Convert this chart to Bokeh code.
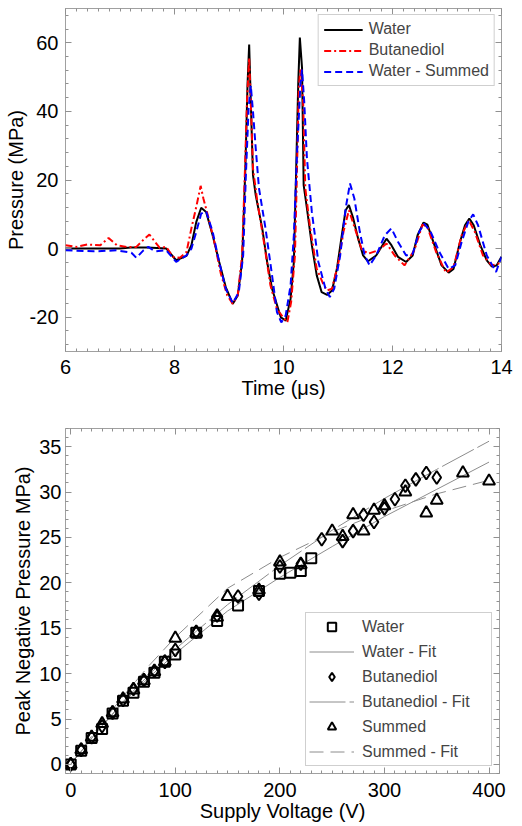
from bokeh.plotting import figure
from bokeh.models import (LinearAxis, SingleIntervalTicker, Legend, LegendItem,
                          CustomJSTickFormatter, Range1d)
from bokeh.layouts import column
from bokeh.embed import file_html
from bokeh.resources import INLINE

# ---------------- Top panel data (time in us, pressure in MPa) ----------------
water_t = [6.0, 6.5, 7.0, 7.2, 7.5, 7.85, 8.03, 8.22, 8.31, 8.40, 8.49, 8.58, 8.70, 8.82, 8.94,
           9.07, 9.16, 9.24, 9.30, 9.34, 9.37, 9.40, 9.44, 9.49, 9.61, 9.70, 9.79, 9.95, 10.04,
           10.13, 10.19, 10.23, 10.27, 10.30, 10.34, 10.37, 10.43, 10.52, 10.61, 10.70, 10.80,
           10.89, 10.98, 11.07, 11.14, 11.20, 11.28, 11.37, 11.46, 11.55, 11.70, 11.89, 11.98,
           12.10, 12.25, 12.37, 12.46, 12.57, 12.64, 12.77, 12.90, 13.03, 13.12, 13.24, 13.33,
           13.41, 13.49, 13.61, 13.73, 13.82, 13.91, 14.0]
water_p = [0.0, 0.0, 0.0, 0.3, 0.3, 0.0, -3.4, -2.1, 1.0, 7.8, 11.9, 10.7, 3.9, -3.9, -11.2,
           -16.1, -13.7, -3.9, 23.4, 47.8, 59.5, 42.9, 21.5, 15.6, 5.9, -3.9, -11.7, -20.0, -21.0,
           -14.6, -3.9, 21.5, 47.8, 61.5, 52.7, 18.5, 11.7, 1.0, -7.8, -12.7, -13.5,
           -12.2, -5.9, 3.9, 11.2, 12.7, 8.8, 2.9, -2.0, -3.7, -2.0, 2.9, 1.0,
           -2.4, -3.9, -2.0, 3.9, 7.6, 7.0, 1.0, -4.9, -7.0, -5.9, 2.0, 6.8,
           8.8, 6.8, 1.0, -3.4, -5.2, -4.9, -2.4]

but_t = [6.0, 6.2, 6.4, 6.64, 6.79, 6.94, 7.12, 7.30, 7.45, 7.54, 7.64, 7.73, 7.85, 7.97, 8.10,
         8.22, 8.31, 8.40, 8.48, 8.53, 8.61, 8.73, 8.85, 8.97, 9.07, 9.16, 9.24, 9.29, 9.33,
         9.37, 9.40, 9.44, 9.52, 9.64, 9.76, 9.88, 9.99, 10.07, 10.14, 10.21, 10.24, 10.28,
         10.31, 10.36, 10.40, 10.49, 10.61, 10.74, 10.80, 10.89, 11.01, 11.10, 11.20, 11.31,
         11.43, 11.55, 11.74, 11.89, 12.04, 12.22, 12.40, 12.55, 12.64, 12.80, 12.98, 13.12,
         13.27, 13.40, 13.51, 13.66, 13.82, 13.94, 14.0]
but_p = [1.0, 0.5, 1.2, 1.0, 3.1, 1.0, 0.5, 0.5, 2.9, 4.1, 2.0, 0.2, 0.5, -2.4, -2.7,
         -1.0, 5.9, 12.2, 18.3, 14.6, 9.8, 2.0, -7.3, -13.7, -16.1, -13.7, -2.0, 21.5, 42.9,
         55.6, 42.9, 23.4, 13.7, 2.0, -10.7, -17.6, -20.0, -21.5, -15.6, -2.0, 17.6, 46.8,
         52.5, 42.9, 17.6, 5.9, -5.9, -10.7, -12.2, -11.7, -3.9, 4.9, 11.2, 5.9,
         0.0, -1.5, -0.5, 1.5, -2.0, -4.9, -0.5, 7.0, 6.3, -1.0, -7.0, -5.4,
         3.9, 8.3, 4.9, -2.0, -4.9, -4.4, -3.9]

sum_t = [6.0, 6.52, 6.94, 7.21, 7.30, 7.43, 7.52, 7.64, 7.85, 8.03, 8.22, 8.31, 8.40, 8.49,
         8.58, 8.70, 8.82, 8.94, 9.07, 9.18, 9.26, 9.31, 9.36, 9.40, 9.44, 9.49, 9.55, 9.67,
         9.79, 9.88, 9.96, 10.04, 10.13, 10.19, 10.25, 10.31, 10.34, 10.38, 10.43, 10.52,
         10.64, 10.77, 10.85, 10.93, 11.04, 11.14, 11.22, 11.30, 11.40, 11.49, 11.58, 11.70,
         11.86, 11.98, 12.10, 12.25, 12.37, 12.49, 12.58, 12.70, 12.86, 13.03, 13.15, 13.27,
         13.39, 13.48, 13.57, 13.73, 13.90, 14.0]
sum_p = [-0.5, -0.8, -0.5, -1.2, -2.7, -0.5, 0.5, -0.8, -0.5, -3.9, -2.0, 0.0, 4.9, 10.2,
         10.9, 4.9, -3.9, -11.7, -15.9, -12.7, -2.0, 21.5, 41.0, 47.5, 40.0, 29.3, 17.6, 5.9,
         -7.8, -18.5, -21.5, -19.5, -10.7, 3.9, 28.3, 47.8, 52.2, 42.9, 26.3, 10.7,
         -3.9, -11.7, -14.1, -11.7, -2.0, 11.7, 19.0, 14.6, 4.9, -2.0, -4.9, -2.0,
         3.9, 5.9, 2.0, -2.0, -1.5, 4.9, 7.3, 4.9, -1.0, -5.9, -4.9, 2.0,
         7.8, 10.0, 6.8, -2.0, -6.8, -2.4]

# ---------------- Bottom panel data (supply voltage V, peak negative pressure MPa) ----------------
water_v = [0, 10, 20, 30, 40, 50, 60, 70, 80, 90, 100, 120, 140, 160, 180, 200, 210, 220, 230]
water_pnp = [0, 1.5, 2.9, 3.9, 5.6, 7.0, 7.9, 9.1, 10.1, 11.3, 12.1, 14.5, 15.8, 17.5, 19.1,
             21.0, 21.1, 21.3, 22.7]

but_v = [0, 10, 20, 30, 40, 50, 60, 70, 80, 90, 100, 120, 140, 160, 180, 200, 220, 240, 260,
         270, 280, 290, 300, 310, 320, 330, 340, 350]
but_pnp = [0, 1.6, 3.0, 4.2, 5.7, 7.1, 8.3, 9.3, 10.3, 11.3, 12.6, 14.6, 16.4, 18.5, 18.8,
           21.8, 22.1, 24.8, 24.6, 25.7, 27.5, 26.7, 28.2, 29.2, 30.7, 31.4, 32.1, 31.6]

sum_v = [0, 10, 20, 30, 40, 50, 60, 70, 80, 90, 100, 120, 140, 150, 180, 200, 220, 250, 260,
         270, 280, 290, 300, 320, 340, 350, 375, 400]
sum_pnp = [0, 1.6, 3.0, 4.5, 5.7, 7.2, 8.2, 9.2, 10.2, 11.3, 13.9, 14.5, 16.2, 18.5, 19.2,
           22.3, 22.0, 25.7, 25.1, 27.5, 25.7, 28.0, 28.5, 30.0, 27.7, 29.1, 32.1, 31.2]

fit_v = [0, 25, 50, 75, 100, 150, 200, 250, 300, 350, 400]
water_fit = [0, 3.6, 6.8, 9.6, 12.2, 16.9, 20.6, 24.0, 27.3, 30.3, 33.3]
but_fit = [0, 3.6, 6.9, 9.9, 12.7, 17.6, 21.9, 25.8, 29.3, 32.5, 35.6]
sum_fit = [0, 3.9, 7.5, 10.9, 14.0, 19.4, 22.8, 25.6, 27.9, 29.8, 31.3]

FONT = "Liberation Sans"
FRAME = "#a0a0a0"
TICK = "#909090"


def make_axis(ax, interval, minor, show_labels=True, standoff=8):
    ax.ticker = SingleIntervalTicker(interval=interval, num_minor_ticks=minor)
    ax.axis_line_color = None
    ax.major_tick_in = 6
    ax.major_tick_out = 0
    ax.minor_tick_in = 3
    ax.minor_tick_out = 0
    ax.major_tick_line_color = TICK
    ax.minor_tick_line_color = TICK
    ax.major_label_text_font = FONT
    ax.major_label_text_color = "black"
    ax.axis_label_text_font = FONT
    ax.axis_label_text_font_style = "normal"
    ax.axis_label_text_color = "black"
    if show_labels:
        ax.formatter = CustomJSTickFormatter(code="return tick.toString();")
        ax.major_label_text_font_size = "20px"
        ax.axis_label_text_font_size = "20px"
        ax.major_label_standoff = standoff
    else:
        ax.formatter = CustomJSTickFormatter(code="return '';")
        ax.major_label_text_font_size = "0px"
        ax.axis_label_text_font_size = "0px"
        ax.axis_label_standoff = 0
        ax.major_label_standoff = 0


def base_fig(width, height, xr, yr, mbl, mbr, mbt, mbb):
    p = figure(width=width, height=height, x_range=Range1d(*xr), y_range=Range1d(*yr),
               output_backend="svg", toolbar_location=None,
               min_border_left=mbl, min_border_right=mbr,
               min_border_top=mbt, min_border_bottom=mbb)
    p.xgrid.visible = False
    p.ygrid.visible = False
    p.outline_line_color = FRAME
    p.outline_line_width = 1
    p.background_fill_color = "white"
    p.border_fill_color = "white"
    return p


# ---------------- Top figure ----------------
p1 = base_fig(522, 412, (6, 14), (-30, 70), 65, 10, 8, 61)
make_axis(p1.xaxis[0], 2, 10, standoff=8)
make_axis(p1.yaxis[0], 20, 5, standoff=7)
p1.xaxis[0].axis_label = "Time (μs)"
p1.yaxis[0].axis_label = "Pressure (MPa)"
p1.yaxis[0].axis_label_standoff = 0
p1.xaxis[0].axis_label_standoff = 0
ax_top = LinearAxis()
make_axis(ax_top, 2, 10, show_labels=False)
p1.add_layout(ax_top, "above")
ax_right = LinearAxis()
make_axis(ax_right, 20, 5, show_labels=False)
p1.add_layout(ax_right, "right")

r_w = p1.line(water_t, water_p, line_color="black", line_width=2)
r_b = p1.line(but_t, but_p, line_color="red", line_width=2, line_dash="7 3 2 3")
r_s = p1.line(sum_t, sum_p, line_color="blue", line_width=2, line_dash="7 4")

leg1 = Legend(items=[LegendItem(label="Water", renderers=[r_w]),
                     LegendItem(label="Butanediol", renderers=[r_b]),
                     LegendItem(label="Water - Summed", renderers=[r_s])],
              location="top_right", margin=6, padding=5, spacing=3,
              glyph_width=39, glyph_height=17, label_height=17, label_standoff=6,
              label_text_font=FONT, label_text_font_size="16px",
              border_line_color=FRAME, border_line_width=1,
              background_fill_color="white", background_fill_alpha=1)
p1.add_layout(leg1)

# ---------------- Bottom figure ----------------
p2 = base_fig(520, 413, (-5, 410), (-1, 37), 64, 21, 16, 52)
make_axis(p2.xaxis[0], 100, 10, standoff=9)
make_axis(p2.yaxis[0], 5, 5, standoff=4)
p2.xaxis[0].axis_label = "Supply Voltage (V)"
p2.yaxis[0].axis_label = "Peak Negative Pressure MPa)"
p2.yaxis[0].axis_label_standoff = 2
p2.xaxis[0].axis_label_standoff = 0
ax_top2 = LinearAxis()
make_axis(ax_top2, 100, 10, show_labels=False)
p2.add_layout(ax_top2, "above")
ax_right2 = LinearAxis()
make_axis(ax_right2, 5, 5, show_labels=False)
p2.add_layout(ax_right2, "right")

f_w = p2.line(fit_v, water_fit, line_color="#8c8c8c", line_width=1)
f_b = p2.line(fit_v, but_fit, line_color="#8c8c8c", line_width=1, line_dash="36 4")
f_s = p2.line(fit_v, sum_fit, line_color="#8c8c8c", line_width=1, line_dash="14 7")

m_w = p2.scatter(water_v, water_pnp, marker="square", size=10, line_color="black",
                 line_width=2, fill_alpha=0)
m_b = p2.scatter(but_v, but_pnp, marker="diamond", size=13, line_color="black",
                 line_width=2, fill_alpha=0)
m_s = p2.scatter(sum_v, sum_pnp, marker="triangle", size=12, line_color="black",
                 line_width=2, fill_alpha=0)

leg2 = Legend(items=[LegendItem(label="Water", renderers=[m_w]),
                     LegendItem(label="Water - Fit", renderers=[f_w]),
                     LegendItem(label="Butanediol", renderers=[m_b]),
                     LegendItem(label="Butanediol - Fit", renderers=[f_b]),
                     LegendItem(label="Summed", renderers=[m_s]),
                     LegendItem(label="Summed - Fit", renderers=[f_s])],
              location="bottom_right", margin=7, padding=3, spacing=4,
              glyph_width=45, glyph_height=21, label_height=21, label_standoff=8,
              label_width=126,
              label_text_font=FONT, label_text_font_size="16px",
              border_line_color=FRAME, border_line_width=1,
              background_fill_color="white", background_fill_alpha=1)
p2.add_layout(leg2)

layout = column(p1, p2, spacing=0)
open("out.html", "w").write(file_html(layout, INLINE))
